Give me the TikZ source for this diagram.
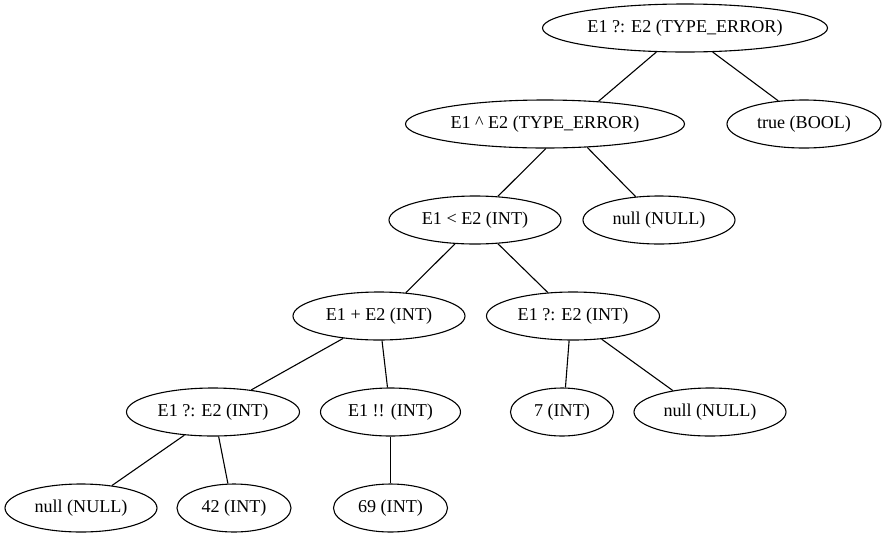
\documentclass[tikz,border=0pt]{standalone}
\usepackage{fontspec}
\setmainfont{Liberation Serif}
\usetikzlibrary{shapes.geometric}
\begin{document}
\begin{tikzpicture}[x=1pt,y=-1pt,
  tn/.style={ellipse, draw, line width=1.1pt, inner sep=0pt, minimum height=48pt,
    font=\fontsize{18.1}{20}\selectfont},
  ed/.style={line width=1.1pt}]
\useasboundingbox (0,0) rectangle (886,539);
% rank 1
\node[tn, minimum width=285pt] (top) at (685,28) {E1 ?: E2 (TYPE\_ERROR)};
% rank 2
\node[tn, minimum width=279pt] (xor) at (545,124) {E1 \textasciicircum{} E2 (TYPE\_ERROR)};
\node[tn, minimum width=154pt] (tru) at (804,124) {true (BOOL)};
% rank 3
\node[tn, minimum width=172pt] (lt) at (475,220) {E1 \textless{} E2 (INT)};
\node[tn, minimum width=152pt] (nullA) at (659,220) {null (NULL)};
% rank 4
\node[tn, minimum width=172pt] (plus) at (379,316) {E1 + E2 (INT)};
\node[tn, minimum width=173pt] (elvR) at (573,316) {E1 ?: E2 (INT)};
% rank 5
\node[tn, minimum width=173pt] (elvL) at (213,412) {E1 ?: E2 (INT)};
\node[tn, minimum width=140pt] (bang) at (390.5,412) {E1 !! (INT)};
\node[tn, minimum width=103pt] (seven) at (562,412) {7 (INT)};
\node[tn, minimum width=152pt] (nullB) at (710,412) {null (NULL)};
% rank 6
\node[tn, minimum width=152pt] (nullC) at (81,508) {null (NULL)};
\node[tn, minimum width=114pt] (ftwo) at (234,508) {42 (INT)};
\node[tn, minimum width=114pt] (snine) at (390.5,508) {69 (INT)};
% edges
\draw[ed] (top.220.6) -- (xor.23.9);
\draw[ed] (top.319.4) -- (tru.138.5);
\draw[ed] (xor.272) -- (lt.46.3);
\draw[ed] (xor.331) -- (nullA.135);
\draw[ed] (lt.230) -- (plus.41.5);
\draw[ed] (lt.314) -- (elvR.137.5);
\draw[ed] (plus.212.3) -- (elvL.30.3);
\draw[ed] (plus.277) -- (bang.97.4);
\draw[ed] (elvR.261) -- (seven.82.6);
\draw[ed] (elvR.321.3) -- (nullB.150);
\draw[ed] (elvL.219.8) -- (nullC.36.5);
\draw[ed] (elvL.283.5) -- (ftwo.104.6);
\draw[ed] (bang.south) -- (snine.north);
\end{tikzpicture}
\end{document}
